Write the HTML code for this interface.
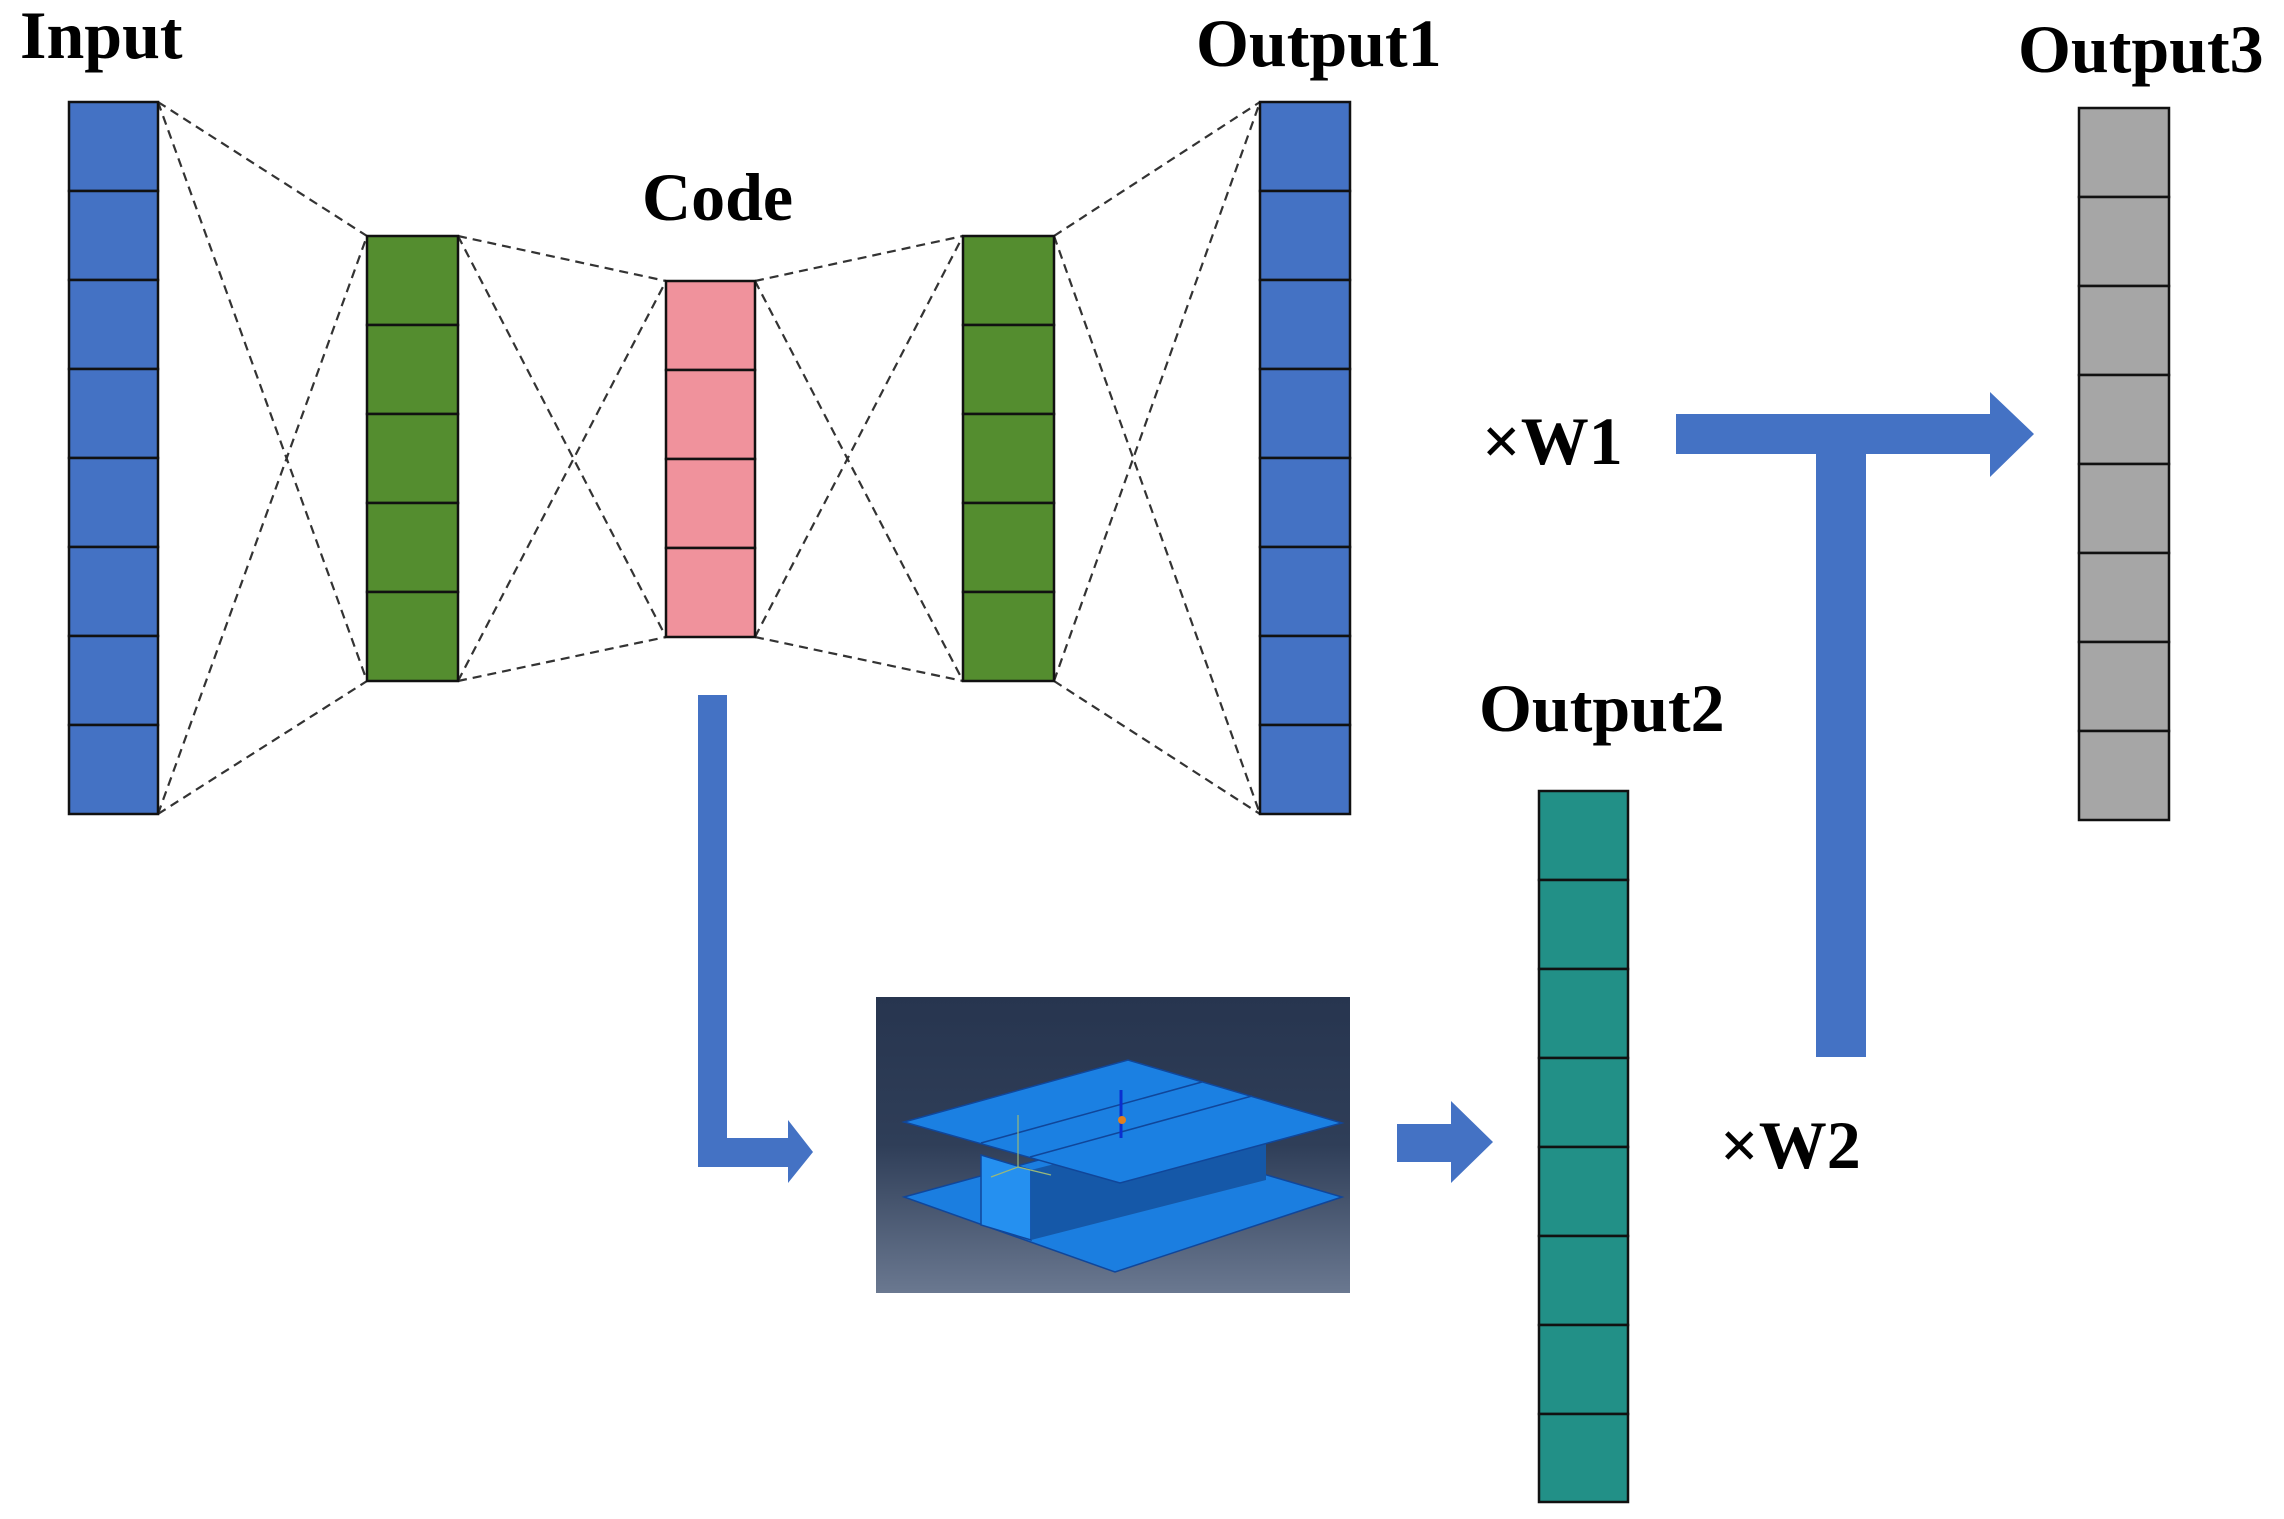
<!DOCTYPE html>
<html><head><meta charset="utf-8"><style>
html,body{margin:0;padding:0;background:#fff;}
svg{display:block;}
text{font-family:"Liberation Serif",serif;font-weight:bold;fill:#000;}
</style></head><body>
<svg width="2284" height="1519" viewBox="0 0 2284 1519" xmlns="http://www.w3.org/2000/svg">
<defs>
<linearGradient id="bg" x1="0" y1="0" x2="0" y2="1">
<stop offset="0" stop-color="#27354f"/><stop offset="0.5" stop-color="#2f3e58"/><stop offset="1" stop-color="#6a7890"/>
</linearGradient>
</defs>
<g stroke="#333" stroke-width="2.2" stroke-dasharray="9,6" fill="none">
<line x1="158" y1="102" x2="367" y2="236"/><line x1="158" y1="102" x2="367" y2="681"/>
<line x1="158" y1="814" x2="367" y2="236"/><line x1="158" y1="814" x2="367" y2="681"/>
<line x1="458" y1="236" x2="666" y2="281"/><line x1="458" y1="236" x2="666" y2="637"/>
<line x1="458" y1="681" x2="666" y2="281"/><line x1="458" y1="681" x2="666" y2="637"/>
<line x1="755" y1="281" x2="963" y2="236"/><line x1="755" y1="281" x2="963" y2="681"/>
<line x1="755" y1="637" x2="963" y2="236"/><line x1="755" y1="637" x2="963" y2="681"/>
<line x1="1054" y1="236" x2="1260" y2="102"/><line x1="1054" y1="236" x2="1260" y2="814"/>
<line x1="1054" y1="681" x2="1260" y2="102"/><line x1="1054" y1="681" x2="1260" y2="814"/>
</g>
<g stroke="#111" stroke-width="2.5">
<g fill="#4472c4">
<rect x="69" y="102" width="89" height="89"/><rect x="69" y="191" width="89" height="89"/><rect x="69" y="280" width="89" height="89"/><rect x="69" y="369" width="89" height="89"/><rect x="69" y="458" width="89" height="89"/><rect x="69" y="547" width="89" height="89"/><rect x="69" y="636" width="89" height="89"/><rect x="69" y="725" width="89" height="89"/>
</g>
<g fill="#4472c4">
<rect x="1260" y="102" width="90" height="89"/><rect x="1260" y="191" width="90" height="89"/><rect x="1260" y="280" width="90" height="89"/><rect x="1260" y="369" width="90" height="89"/><rect x="1260" y="458" width="90" height="89"/><rect x="1260" y="547" width="90" height="89"/><rect x="1260" y="636" width="90" height="89"/><rect x="1260" y="725" width="90" height="89"/>
</g>
<g fill="#548d2f">
<rect x="367" y="236" width="91" height="89"/><rect x="367" y="325" width="91" height="89"/><rect x="367" y="414" width="91" height="89"/><rect x="367" y="503" width="91" height="89"/><rect x="367" y="592" width="91" height="89"/>
<rect x="963" y="236" width="91" height="89"/><rect x="963" y="325" width="91" height="89"/><rect x="963" y="414" width="91" height="89"/><rect x="963" y="503" width="91" height="89"/><rect x="963" y="592" width="91" height="89"/>
</g>
<g fill="#f0929c">
<rect x="666" y="281" width="89" height="89"/><rect x="666" y="370" width="89" height="89"/><rect x="666" y="459" width="89" height="89"/><rect x="666" y="548" width="89" height="89"/>
</g>
<g fill="#a6a6a6">
<rect x="2079" y="108" width="90" height="89"/><rect x="2079" y="197" width="90" height="89"/><rect x="2079" y="286" width="90" height="89"/><rect x="2079" y="375" width="90" height="89"/><rect x="2079" y="464" width="90" height="89"/><rect x="2079" y="553" width="90" height="89"/><rect x="2079" y="642" width="90" height="89"/><rect x="2079" y="731" width="90" height="89"/>
</g>
<g fill="#229087">
<rect x="1539" y="791" width="89" height="89"/><rect x="1539" y="880" width="89" height="89"/><rect x="1539" y="969" width="89" height="89"/><rect x="1539" y="1058" width="89" height="89"/><rect x="1539" y="1147" width="89" height="89"/><rect x="1539" y="1236" width="89" height="89"/><rect x="1539" y="1325" width="89" height="89"/><rect x="1539" y="1414" width="89" height="88"/>
</g>
</g>
<g fill="#4472c4">
<polygon points="698,695 727,695 727,1138 788,1138 788,1120 813,1152 788,1183 788,1167 698,1167"/>
<polygon points="1397,1124 1451,1124 1451,1101 1493,1142 1451,1183 1451,1162 1397,1162"/>
<polygon points="1676,414 1990,414 1990,392 2034,434 1990,477 1990,454 1866,454 1866,1057 1816,1057 1816,454 1676,454"/>
</g>
<rect x="876" y="997" width="474" height="296" fill="url(#bg)"/>
<polygon points="904,1197 1130,1135 1342,1197 1115,1272" fill="#1b7ee0" stroke="#10469a" stroke-width="1.5"/>
<polygon points="981,1155 1031,1170 1031,1240 981,1225" fill="#2590f0" stroke="#10469a" stroke-width="1.5"/>
<polygon points="1031,1170 1266,1110 1266,1180 1031,1240" fill="#1558a8"/>
<polygon points="904,1122 1128,1060 1342,1123 1120,1183" fill="#1b80e2" stroke="#10469a" stroke-width="1.5"/>
<line x1="981" y1="1143" x2="1202" y2="1082" stroke="#10469a" stroke-width="1.5"/>
<line x1="1030" y1="1157" x2="1252" y2="1096" stroke="#10469a" stroke-width="1.5"/>
<g stroke="#9ab87a" stroke-width="1.2"><line x1="1018" y1="1167" x2="1018" y2="1115"/><line x1="1018" y1="1167" x2="991" y2="1177"/><line x1="1018" y1="1167" x2="1051" y2="1175"/></g>
<line x1="1121" y1="1090" x2="1121" y2="1138" stroke="#0a2fd0" stroke-width="3"/>
<circle cx="1122" cy="1120" r="4" fill="#e08020"/>
<text x="20" y="58" font-size="68">Input</text>
<text x="1196" y="66" font-size="68">Output1</text>
<text x="642" y="220" font-size="68">Code</text>
<text x="2018" y="72" font-size="68">Output3</text>
<text x="1479" y="731" font-size="68">Output2</text>
<text x="1482" y="464" font-size="68">×W1</text>
<text x="1720" y="1168" font-size="68">×W2</text>
</svg>
</body></html>
